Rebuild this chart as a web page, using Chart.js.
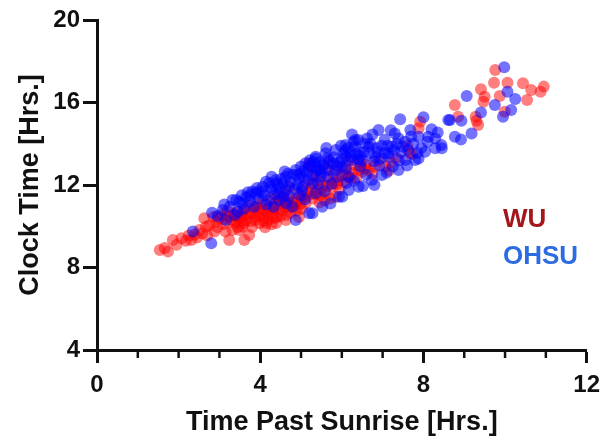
<!DOCTYPE html>
<html>
<head>
<meta charset="utf-8">
<script src="https://cdn.jsdelivr.net/npm/chart.js@4.4.0/dist/chart.umd.min.js"></script>
<style>
  html, body { margin: 0; padding: 0; background: #fff; }
  #caixa { width: 608px; height: 440px; }
</style>
</head>
<body>
<div id="caixa"><canvas id="grafico"></canvas></div>
<script>
// pontos: [horas apos o nascer do sol, hora do relogio]
var wuPoints = [
  [1.54,8.85],[1.74,8.77],[1.66,8.95],[1.86,9.33],[1.95,9.1],[2.07,9.42],[2.18,9.3],[2.31,9.33],[2.25,9.55],[2.4,9.6],[2.45,9.45],
  [2.51,9.82],[2.67,9.98],[2.63,10.39],[2.88,9.74],[2.92,10.22],[2.75,10.05],[2.58,9.65],[2.85,10.45],[2.95,9.95],[2.7,9.55],[2.98,10.4],
  [3.24,9.33],[3.32,9.82],[3.24,10.46],[3.41,10.46],[3.1,10.1],[3.15,9.75],[3.05,10.55],[3.38,10.15],[3.45,9.95],[3.2,10.75],[3.49,9.82],[3.3,10.3],[3.12,10.35],[3.44,10.7],
  [3.35,10.6],[3.4,10.25],[3.18,10.55],
  [3.61,9.33],[3.73,9.58],[3.57,9.98],[3.73,10.63],[3.8,9.96],[3.98,10.14],[3.65,10.3],[3.9,10.45],[3.55,10.55],[3.85,10.85],[3.7,11.0],[3.95,10.7],[3.62,10.75],[3.78,10.25],[3.92,11.05],
  [3.5,10.4],[3.6,10.15],[3.68,10.5],[3.82,10.6],[3.88,10.3],[3.55,10.25],[3.98,10.9],
  [4.06,10.79],[4.15,10.16],[4.3,10.63],[4.39,10.16],[4.1,10.45],[4.22,10.9],[4.35,11.1],[4.45,10.7],[4.05,11.15],[4.25,11.35],[4.4,10.45],[4.18,10.6],[4.48,11.25],[4.12,9.95],[4.32,10.85],[4.42,11.45],
  [4.0,10.55],[4.08,10.25],[4.2,10.35],[4.28,10.1],[4.36,10.4],[4.15,10.75],[4.45,11.05],
  [4.54,10.79],[4.63,10.3],[4.95,10.45],[4.87,11.27],[4.71,11.92],[4.6,11.05],[4.75,10.65],[4.85,10.95],[4.55,11.4],[4.68,11.35],[4.92,11.6],[4.8,11.15],[4.97,11.05],[4.65,10.55],[4.9,10.75],[4.58,11.65],
  [4.5,10.5],[4.58,10.95],[4.7,10.85],[4.78,11.0],[4.88,11.1],[4.62,11.2],
  [5.11,11.11],[5.24,11.84],[5.2,13.05],[5.36,12.65],[5.2,12.89],[5.44,12.24],[5.05,11.45],[5.15,11.6],[5.3,11.35],[5.4,11.75],[5.1,12.05],[5.28,12.1],[5.45,11.15],[5.35,12.4],[5.02,10.85],[5.48,11.5],
  [5.0,11.3],[5.12,11.4],[5.25,11.55],[5.38,11.55],
  [5.68,12.24],[5.85,11.43],[5.6,11.6],[5.68,13.05],[5.93,12.89],[5.76,11.92],[5.55,12.0],[5.8,12.55],[5.9,12.2],[5.62,12.75],[5.72,11.35],[5.95,11.8],[5.58,11.25],
  [5.5,11.8],[5.65,11.95],[5.8,12.1],[5.88,12.05],
  [6.09,12.73],[6.41,12.73],[6.17,12.4],[6.3,12.95],[6.05,12.15],[6.25,12.6],[6.45,13.1],[6.35,12.35],[6.15,13.15],
  [6.0,12.45],[6.1,12.5],[6.22,12.3],
  [6.5,12.65],[6.66,12.73],[6.6,13.0],[6.8,12.9],[6.9,13.2],[6.75,12.55],[6.55,12.8],
  [7.07,12.89],[7.2,13.1],[7.35,13.3],[7.15,12.7],
  [7.67,13.54],[7.72,13.5],[7.88,14.75],[7.92,15.07],[7.6,13.9],
  [8.77,15.88],[8.85,15.31],[9.28,15.31],[9.3,15.12],[9.34,14.91],[9.41,16.64],[9.5,16.28],[9.47,16.04],[9.76,17.58],[9.73,16.96],[9.87,16.32],
  [9.99,15.55],[10.06,16.96],[10.44,16.93],[10.54,16.12],[10.64,16.61],[10.87,16.52],[10.95,16.77]
];

var ohsuPoints = [
  [2.35,9.74],[2.82,10.66],[2.8,9.17],[2.95,10.5],
  [3.08,10.79],[3.16,10.3],[3.32,11.27],[3.41,11.27],[3.49,11.19],[3.45,10.7],[3.25,10.95],[3.38,10.55],[3.12,11.05],
  [3.57,11.11],[3.81,11.68],[3.89,11.6],[3.65,11.4],[3.75,11.2],[3.95,11.35],[3.6,10.85],[3.85,10.95],[3.7,11.65],[3.92,11.85],[3.55,11.5],
  [3.98,11.7],[3.75,11.5],
  [4.06,11.92],[4.14,12.16],[4.22,12.08],[4.38,12.24],[4.46,11.6],[4.46,11.27],[4.3,11.8],[4.1,11.5],[4.2,11.25],[4.35,11.55],[4.42,12.0],[4.05,11.65],[4.28,12.4],[4.15,11.05],[4.48,11.85],[4.33,10.95],
  [4.4,12.1],[4.25,11.9],
  [4.63,12.4],[4.87,12.73],[4.63,11.76],[4.79,10.95],[4.71,11.43],[4.87,10.3],[4.63,11.11],[4.55,12.1],[4.75,12.15],[4.95,12.3],[4.85,11.8],[4.6,12.65],[4.92,12.0],[4.7,11.95],[4.8,12.5],[4.98,11.5],[4.57,11.45],
  [4.52,12.3],[4.68,12.55],[4.9,12.5],[4.98,12.55],
  [5.11,13.05],[5.36,13.37],[5.03,11.92],[5.28,12.08],[5.03,11.76],[5.2,10.63],[5.28,10.63],[5.36,13.29],[5.15,12.6],[5.25,12.85],[5.4,12.7],[5.05,12.4],[5.45,13.1],[5.3,12.45],[5.18,12.25],[5.42,12.05],[5.1,11.3],[5.35,11.6],[5.48,12.4],[5.22,13.2],
  [5.0,12.9],[5.08,12.7],[5.2,12.95],[5.3,13.1],[5.38,12.9],[5.45,12.75],
  [5.6,13.54],[5.85,13.7],[5.68,12.73],[5.52,10.95],[5.93,11.43],[5.85,12.73],[5.7,13.2],[5.55,13.0],[5.8,13.35],[5.95,13.1],[5.65,12.4],[5.75,12.05],[5.9,12.4],[5.58,11.7],[5.72,11.1],[5.98,13.9],[5.62,13.8],
  [5.5,12.6],[5.55,12.95],[5.65,13.3],[5.78,13.05],[5.88,12.95],
  [6.09,13.94],[6.29,14.1],[6.01,12.89],[6.25,13.21],[6.17,11.76],[6.09,13.7],[6.41,14.18],[6.33,14.18],[6.09,13.37],[6.17,12.4],[6.41,11.92],[6.01,11.43],[6.2,13.6],[6.35,13.5],[6.45,12.9],[6.3,12.2],[6.12,12.1],[6.4,13.25],[6.25,14.45],
  [6.0,13.25],[6.05,13.55],[6.15,13.8],[6.22,13.35],[6.32,13.85],[6.42,13.6],[6.1,12.8],[6.45,13.4],
  [6.66,13.86],[6.62,14.26],[6.74,12.24],[6.98,12.48],[6.82,13.37],[6.9,14.67],[6.55,13.6],[6.7,14.0],[6.85,13.8],[6.95,13.3],[6.6,12.5],[6.8,12.0],[6.52,11.95],[6.75,14.45],[6.92,12.95],
  [6.5,13.2],[6.58,14.0],[6.68,13.55],[6.78,13.15],[6.88,13.6],[6.98,13.9],
  [7.15,13.54],[7.15,13.37],[7.39,12.73],[7.23,13.86],[7.39,14.26],[7.43,15.19],[7.05,14.2],[7.3,14.5],[7.1,12.6],[7.25,12.9],[7.45,13.6],[7.35,14.0],[7.2,14.65],[7.4,13.2],
  [7.05,13.55],[7.12,13.9],[7.28,13.7],
  [7.56,13.21],[7.8,13.21],[7.63,13.7],[7.68,14.67],[7.88,14.34],[7.88,13.29],[8.0,15.28],[8.04,13.61],[7.55,14.1],[7.75,14.0],[7.95,13.8],[7.7,14.35],[7.85,13.55],[8.1,14.1],[7.6,12.95],
  [7.5,13.85],
  [8.12,14.34],[8.29,14.26],[8.45,13.78],[8.29,13.78],[8.44,13.94],[8.2,14.7],[8.35,14.55],[8.61,15.15],
  [8.77,14.34],[8.92,14.21],[8.93,15.12],[9.18,14.5],[9.06,16.32],[9.41,15.51],[9.75,15.88],[9.95,15.31],[10.06,16.52],[10.15,15.64],[10.25,16.17],[9.98,17.71],[8.65,15.15]
];

var xTicks = [0, 4, 8, 12];
var xMinorTicks = [1, 2, 3, 5, 6, 7, 9, 10, 11];
var yTicks = [4, 8, 12, 16, 20];

// rotulos das series, escritos dentro do grafico
var rotulos = [
  { texto: 'WU', x: 9.95, y: 10.33, cor: '#a5161b' },
  { texto: 'OHSU', x: 9.95, y: 8.53, cor: '#2d6be3' }
];

Chart.defaults.font.family = '"Liberation Sans", Arial, sans-serif';
Chart.defaults.font.weight = 'bold';
Chart.defaults.color = '#111';

// tracinhos menores do eixo x
const tracosMenores = {
  id: 'tracosMenores',
  afterDraw(chart) {
    const ctx = chart.ctx;
    const escalaX = chart.scales.x;
    const base = chart.chartArea.bottom;
    ctx.save();
    ctx.strokeStyle = '#111';
    ctx.lineWidth = 2.5;
    for (var i = 0; i < xMinorTicks.length; i++) {
      var px = escalaX.getPixelForValue(xMinorTicks[i]);
      ctx.beginPath();
      ctx.moveTo(px, base);
      ctx.lineTo(px, base + 8);
      ctx.stroke();
    }
    ctx.restore();
  }
};

const textoSeries = {
  id: 'textoSeries',
  afterDraw(chart) {
    const ctx = chart.ctx;
    ctx.save();
    ctx.font = 'bold 26px "Liberation Sans", Arial, sans-serif';
    ctx.textAlign = 'left';
    ctx.textBaseline = 'middle';
    for (var i = 0; i < rotulos.length; i++) {
      ctx.fillStyle = rotulos[i].cor;
      ctx.fillText(rotulos[i].texto,
        chart.scales.x.getPixelForValue(rotulos[i].x),
        chart.scales.y.getPixelForValue(rotulos[i].y));
    }
    ctx.restore();
  }
};

function paraPontos(lista) {
  return lista.map(function (p) { return { x: p[0], y: p[1] }; });
}

const dados = {
  datasets: [
    {
      label: 'WU',
      data: paraPontos(wuPoints),
      backgroundColor: 'rgba(255, 0, 0, 0.5)',
      borderWidth: 0,
      pointRadius: 6,
      order: 2
    },
    {
      label: 'OHSU',
      data: paraPontos(ohsuPoints),
      backgroundColor: 'rgba(0, 0, 255, 0.55)',
      borderWidth: 0,
      pointRadius: 6,
      order: 1
    }
  ]
};

const config1 = {
  type: 'scatter',
  data: dados,
  options: {
    responsive: true,
    maintainAspectRatio: false,
    animation: false,
    devicePixelRatio: 1,
    layout: { padding: { left: 0, right: 19, top: 20, bottom: 0 } },
    plugins: {
      legend: { display: false },
      tooltip: { enabled: false }
    },
    scales: {
      x: {
        type: 'linear',
        min: 0,
        max: 12,
        afterBuildTicks: function (escala) {
          escala.ticks = xTicks.map(function (v) { return { value: v }; });
        },
        afterFit: function (escala) { escala.height = 90; },
        ticks: { font: { size: 24 }, padding: 8, color: '#111' },
        grid: { drawOnChartArea: false, drawTicks: true, tickLength: 13, tickWidth: 3, tickColor: '#111' },
        border: { display: true, width: 3, color: '#111' },
        title: {
          display: true,
          text: 'Time Past Sunrise [Hrs.]',
          font: { size: 27 },
          color: '#111',
          padding: { top: 0, bottom: 1 }
        }
      },
      y: {
        type: 'linear',
        min: 4,
        max: 20,
        afterBuildTicks: function (escala) {
          escala.ticks = yTicks.map(function (v) { return { value: v }; });
        },
        afterFit: function (escala) { escala.width = 97; },
        ticks: { font: { size: 24 }, padding: 3, color: '#111' },
        grid: { drawOnChartArea: false, drawTicks: true, tickLength: 14, tickWidth: 3, tickColor: '#111' },
        border: { display: true, width: 3, color: '#111' },
        title: {
          display: true,
          text: 'Clock Time [Hrs.]',
          font: { size: 27 },
          color: '#111',
          padding: { top: 14, bottom: 0 }
        }
      }
    }
  },
  plugins: [tracosMenores, textoSeries]
};

let myChart = new Chart(document.getElementById('grafico'), config1);
</script>
</body>
</html>
